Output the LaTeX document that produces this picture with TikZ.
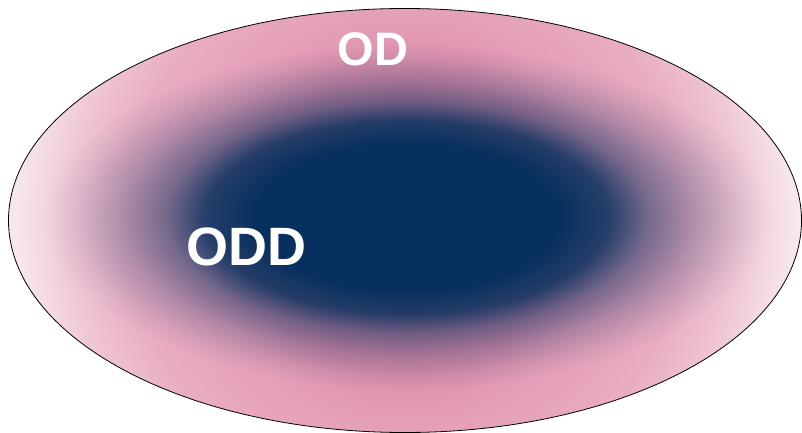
\documentclass[tikz,border=0pt]{standalone}
\usepackage{fontspec}
\setmainfont{Liberation Sans}
\usetikzlibrary{fadings}
\definecolor{navy}{HTML}{08305E}
\definecolor{pkA}{HTML}{CC7493}
\definecolor{pkB}{HTML}{DC8EAB}
\definecolor{pkC}{HTML}{E49EB8}
\definecolor{pkD}{HTML}{E9ADC3}
\definecolor{pkE}{HTML}{EEC2D2}
\definecolor{pkF}{HTML}{F6E4EB}
\definecolor{pkG}{HTML}{F8EAEF}
\pgfdeclareradialshading{outershade}{\pgfpointorigin}{color(0bp)=(pkA); color(9.5bp)=(pkB); color(12.5bp)=(pkC); color(17.5bp)=(pkD); color(20.5bp)=(pkE); color(24bp)=(pkF); color(25bp)=(pkG); color(50bp)=(pkG)}
\pgfdeclareradialshading{corefadeshade}{\pgfpointorigin}{color(0bp)=(white); color(10.5bp)=(white); color(14bp)=(white!86!black); color(16.75bp)=(white!50!black); color(20bp)=(white!24!black); color(23bp)=(white!7!black); color(25bp)=(black); color(50bp)=(black)}
\pgfdeclarefading{corefade}{\pgfuseshading{corefadeshade}}
\tikzset{
  label text/.style={text=white, font=\bfseries, inner sep=0pt, anchor=base},
  outline/.style={draw=black, line width=0.8pt}
}
\begin{document}
\begin{tikzpicture}[x=1pt, y=-1pt]
\useasboundingbox (0,0) rectangle (802,433);
\begin{scope}
  \clip (405,220.5) ellipse [x radius=396.5, y radius=212];
  \shade[shading=outershade] (405,220) circle [radius=400];
  \fill[navy, path fading=corefade] (407,217) ellipse [x radius=360, y radius=172];
\end{scope}
\draw[outline] (405,220.5) ellipse [x radius=396.5, y radius=212];
\node[label text, font=\bfseries\fontsize{47}{47}\selectfont] (od) at (373,66) {OD};
\node[label text, font=\bfseries\fontsize{54}{54}\selectfont] (odd) at (246,265) {ODD};
\end{tikzpicture}
\end{document}
